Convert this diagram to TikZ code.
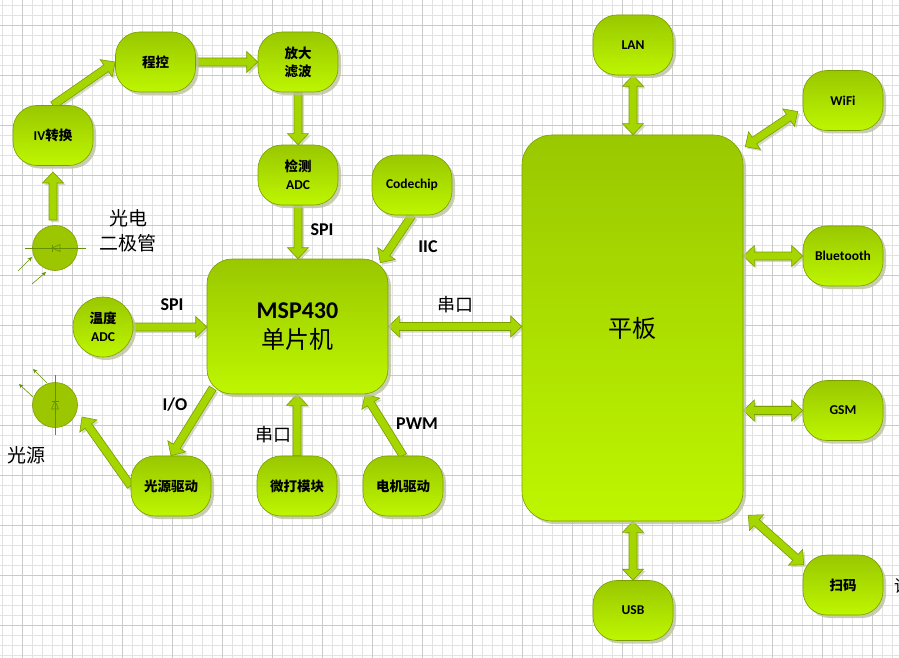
\documentclass[tikz,border=0pt]{standalone}
\usepackage{fontspec}
\setmainfont{Carlito}
\newfontfamily\cjk{Noto Sans CJK SC}
\usetikzlibrary{calc,shadows,arrows.meta}
\definecolor{gtop}{RGB}{153,200,0}
\definecolor{gbot}{RGB}{190,246,0}
\definecolor{bd}{RGB}{122,158,0}
\definecolor{arrf}{RGB}{166,214,0}
\definecolor{shc}{RGB}{188,194,158}
\definecolor{dio}{RGB}{155,198,0}
\definecolor{dline}{RGB}{100,145,0}
\definecolor{gmin}{RGB}{226,226,226}
\definecolor{gmaj}{RGB}{202,202,202}
\pgfdeclarelayer{back}
\pgfsetlayers{back,main}
\newcommand\arrW{4pt}
\newcommand\arrH{10.5pt}
\newcommand\arrL{11pt}
\newcommand\barrow[2]{%
  \coordinate (ta) at (#1); \coordinate (tb) at (#2);
  \coordinate (tc) at ($(tb)!\arrL!(ta)$);
  \draw[arr] ($(ta)!\arrW!90:(tb)$) -- ($(tc)!\arrW!90:(tb)$) -- ($(tc)!\arrH!90:(tb)$) -- (tb)
    -- ($(tc)!\arrH!-90:(tb)$) -- ($(tc)!\arrW!-90:(tb)$) -- ($(ta)!\arrW!-90:(tb)$) -- cycle;}
\newcommand\dbarrow[2]{%
  \coordinate (ta) at (#1); \coordinate (tb) at (#2);
  \coordinate (tc) at ($(ta)!\arrL!(tb)$); \coordinate (td) at ($(tb)!\arrL!(ta)$);
  \draw[arr] (ta) -- ($(tc)!\arrH!90:(tb)$) -- ($(tc)!\arrW!90:(tb)$) -- ($(td)!\arrW!90:(tb)$)
    -- ($(td)!\arrH!90:(tb)$) -- (tb) -- ($(td)!\arrH!-90:(tb)$) -- ($(td)!\arrW!-90:(tb)$)
    -- ($(tc)!\arrW!-90:(tb)$) -- ($(tc)!\arrH!-90:(tb)$) -- cycle;}
\begin{document}
\begin{tikzpicture}[x=1pt,y=-1pt,
  box/.style={rectangle, rounded corners=24pt, minimum width=80pt, minimum height=60pt,
    inner sep=0pt, draw=bd, line width=0.6pt, top color=gtop, bottom color=gbot,
    drop shadow={shadow xshift=3pt,shadow yshift=-3pt,fill=shc,opacity=.8},
    align=center, font=\bfseries\fontsize{13.5}{18}\selectfont},
  diode/.style={circle, minimum size=45pt, inner sep=0pt, fill=dio, draw=bd, line width=0.6pt},
  arr/.style={fill=arrf, draw=bd, line width=0.6pt, line join=miter,
    drop shadow={shadow xshift=2pt,shadow yshift=-2pt,fill=shc,opacity=.6}},
  lbl/.style={inner sep=0pt, font=\bfseries\fontsize{18}{20}\selectfont},
  cjklbl/.style={inner sep=0pt, font=\cjk\fontsize{18}{20}\selectfont},
  big/.style={inner sep=0pt, align=center, font=\cjk\fontsize{19}{25}\selectfont},
  thin/.style={draw=dline, line width=0.6pt},
  small/.style={draw=dline, line width=0.6pt, -{Stealth[length=4.5pt,width=4pt]}}]
\useasboundingbox (0,0) rectangle (899,658);
\clip (0,0) rectangle (899,658);
\begin{pgfonlayer}{back}
  \fill[white] (0,0) rectangle (899,658);
  \foreach \x in {2.5,12.5,...,899} \draw[gmin, line width=0.8pt] (\x,0) -- (\x,658);
  \foreach \y in {5.5,15.5,...,658} \draw[gmin, line width=0.8pt] (0,\y) -- (899,\y);
  \foreach \x in {22.5,72.5,...,899} \draw[gmaj, line width=0.8pt] (\x,0) -- (\x,658);
  \foreach \y in {25.5,75.5,...,658} \draw[gmaj, line width=0.8pt] (0,\y) -- (899,\y);
\end{pgfonlayer}

% nodes
\node[box] (cheng) at (155.5,62) {\cjk 程控};
\node[box] (fang) at (298,62) {\cjk 放大\\\cjk 滤波};
\node[box] (iv) at (53,135.5) {IV{\cjk 转换}};
\node[box] (jc) at (298,175) {{\cjk 检测}\\ADC};
\node[box] (code) at (412,185) {Codechip};
\node[box, minimum width=181pt, minimum height=135pt, rounded corners=25pt,
  font=\bfseries\fontsize{24}{30}\selectfont] (msp) at (297.5,326.5) {MSP430\\{\cjk\mdseries 单片机}};
\node[box, circle, minimum size=60pt] (wd) at (103,327) {{\cjk 温度}\\ADC};
\node[box] (gy) at (171,486) {\cjk 光源驱动};
\node[box] (wdm) at (297,486) {\cjk 微打模块};
\node[box] (dj) at (403,486) {\cjk 电机驱动};
\node[box, minimum width=221pt, minimum height=386pt, rounded corners=30pt,
  font=\cjk\fontsize{24}{30}\selectfont] (pb) at (632.5,328) {平板};
\node[box] (lan) at (633,45) {LAN};
\node[box] (wifi) at (843,100.5) {WiFi};
\node[box] (bt) at (843,256) {Bluetooth};
\node[box] (gsm) at (843,410.5) {GSM};
\node[box] (sm) at (843,585) {\cjk 扫码};
\node[box] (usb) at (633,610.5) {USB};
\node[diode] (pd) at (55,248) {};
\node[diode] (ls) at (55,405) {};

% diode symbols
\draw[thin] ($(pd.center)+(-30,0)$) -- ($(pd.center)+(31,0)$);
\draw[thin] ($(pd.center)+(-3,0)$) -- ($(pd.center)+(5,-3.5)$) -- ($(pd.center)+(5,3.5)$) -- cycle;
\draw[thin] ($(pd.center)+(-3,-3.5)$) -- ($(pd.center)+(-3,3.5)$);
\draw[thin] ($(ls.center)+(0,-30)$) -- ($(ls.center)+(0,30)$);
\draw[thin] ($(ls.center)+(0,-4)$) -- ($(ls.center)+(-3.5,4)$) -- ($(ls.center)+(3.5,4)$) -- cycle;
\draw[thin] ($(ls.center)+(-3.5,-4)$) -- ($(ls.center)+(3.5,-4)$);
\coordinate (pa1) at (18,271); \coordinate (pa1e) at (32,257);
\coordinate (pa2) at (32,284); \coordinate (pa2e) at (46,272);
\draw[small] (pa1) -- (pa1e);
\draw[small] (pa2) -- (pa2e);
\coordinate (la1) at (47,383); \coordinate (la1e) at (33,369);
\coordinate (la2) at (33,397); \coordinate (la2e) at (19,384);
\draw[small] (la1) -- (la1e);
\draw[small] (la2) -- (la2e);

% connectors
\coordinate (pdt) at (53,220);
\coordinate (ivb) at (53,172);
\coordinate (mspne) at ($(msp.north east)+(-8,4)$);
\coordinate (mspsw) at ($(msp.south west)+(6,-6)$);
\coordinate (lstip) at (82,417);
\coordinate (mspdj) at ($(msp.south)+(67.5,0)$);
\coordinate (wifitip) at ($(wifi.west)+(-5,11)$);
\coordinate (pbne) at ($(pb.north east)+(2,12)$);
\coordinate (pbse) at ($(pb.south east)+(5,-6)$);
\coordinate (smtip) at ($(sm.north west)+(1,10)$);
\begin{pgfonlayer}{back}
  \barrow{pdt}{ivb}
  \barrow{iv.north}{cheng.west}
  \barrow{cheng.east}{fang.west}
  \barrow{fang.south}{jc.north}
  \barrow{jc.south}{jc.south |- msp.north}
  \barrow{code.south}{mspne}
  \barrow{wd.east}{wd.east -| msp.west}
  \barrow{mspsw}{gy.north}
  \barrow{gy.west}{lstip}
  \barrow{wdm.north}{wdm.north |- msp.south}
  \barrow{dj.north}{mspdj}
  \dbarrow{msp.east}{msp.east -| pb.west}
  \dbarrow{lan.south}{lan.south |- pb.north}
  \dbarrow{wifitip}{pbne}
  \dbarrow{bt.west -| pb.east}{bt.west}
  \dbarrow{gsm.west -| pb.east}{gsm.west}
  \dbarrow{pbse}{smtip}
  \dbarrow{usb.north}{usb.north |- pb.south}
\end{pgfonlayer}

% labels
\node[lbl] (spi1) at (322,230) {SPI};
\node[lbl] (iic) at (428,247) {IIC};
\node[cjklbl] (ck1) at (455,305) {串口};
\node[lbl] (spi2) at (172,305) {SPI};
\node[lbl] (io) at (175,405) {I/O};
\node[cjklbl] (ck2) at (273,435) {串口};
\node[lbl] (pwm) at (417,424) {PWM};
\node[big] (gdl) at (128,230.5) {光电\\二极管};
\node[big] (lsl) at (27,455) {光源};
\node[inner sep=0pt, anchor=west, font=\cjk\fontsize{17}{20}\selectfont] (cut) at (894,586) {读};
\end{tikzpicture}
\end{document}
